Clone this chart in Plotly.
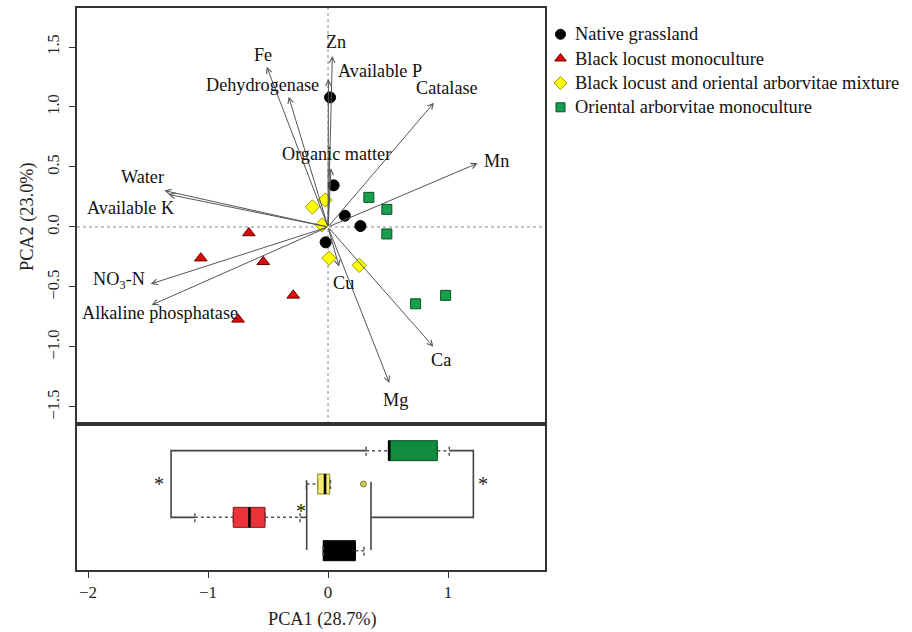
import plotly.graph_objects as go

# ---------------- data ----------------
groups = ["Native grassland", "Black locust monoculture",
          "Black locust and oriental arborvitae mixture",
          "Oriental arborvitae monoculture"]

ng_x = [0.017, 0.047, 0.14, 0.27, -0.02]
ng_y = [1.08, 0.347, 0.094, 0.008, -0.128]
bl_x = [-0.66, -1.06, -0.54, -0.29, -0.75]
bl_y = [-0.05, -0.26, -0.29, -0.57, -0.77]
mx_x = [-0.13, -0.025, -0.05, 0.008, 0.26]
mx_y = [0.167, 0.225, 0.017, -0.26, -0.32]
oa_x = [0.34, 0.49, 0.49, 0.73, 0.98]
oa_y = [0.247, 0.147, -0.058, -0.64, -0.57]

variables = ["Fe", "Zn", "Available P", "Dehydrogenase", "Catalase",
             "Organic matter", "Mn", "Water", "Available K",
             "NO<sub>3</sub>-N", "Alkaline phosphatase", "Cu", "Ca", "Mg"]
load_x = [-0.511, 0.036, 0.003, -0.328, 0.883, 0.025, 1.247, -1.364,
          -1.331, -1.478, -1.469, 0.092, 0.878, 0.511]
load_y = [1.336, 1.425, 1.233, 1.086, 1.036, 0.489, 0.531, 0.303,
          0.272, -0.475, -0.650, -0.331, -0.998, -1.300]
label_x = [-0.543, 0.069, 0.433, -0.543, 0.989, 0.073, 1.400, -1.550,
           -1.650, -1.744, -1.402, 0.125, 0.940, 0.563]
label_y = [1.433, 1.539, 1.300, 1.183, 1.156, 0.608, 0.553, 0.419,
           0.158, -0.450, -0.719, -0.469, -1.108, -1.442]

# PCA1 box statistics (order: Native, Black locust, Mixture, Oriental)
box_pos = [1, 2, 3, 4]
box_low = [-0.04, -1.11, -0.18, 0.317]
box_q1 = [-0.04, -0.79, -0.086, 0.503]
box_med = [-0.03, -0.655, -0.025, 0.51]
box_q3 = [0.228, -0.525, 0.014, 0.911]
box_high = [0.30, -0.233, 0.02, 1.01]
outlier_x = [0.295]
outlier_pos = [3]

# significance brackets
left_bracket_x = -1.308
right_bracket_x = 1.211
mid_left_x = -0.178
mid_right_x = 0.358
mid_span = [1.02, 3.07]
stars_x = [-1.405, 1.291, -0.228]
stars_y = [3.0, 3.0, 2.2]

# ---------------- styles ----------------
FONT = "Liberation Serif, Times New Roman, serif"
fill_cols = ["#000000", "#ee3338", "#f5ef6e", "#118c3f"]
edge_cols = ["#000000", "#7a1d1d", "#8a8430", "#0b4f24"]
W, H = 912, 632

fig = go.Figure()

# scatter points (top panel)
pts = [
    (ng_x, ng_y, "circle", "#000000", "#000000", 11),
    (bl_x, bl_y, "triangle-up", "#dd0a0a", "#6a0000", 11),
    (mx_x, mx_y, "diamond", "#ffff00", "#9a9a10", 11),
    (oa_x, oa_y, "square", "#16a04e", "#0b4f24", 10),
]
for name, (xs, ys, sym, col, lc, sz) in zip(groups, pts):
    fig.add_trace(go.Scatter(
        x=xs, y=ys, mode="markers", name=name, xaxis="x", yaxis="y",
        marker=dict(symbol=sym, color=col, size=sz, line=dict(color=lc, width=1)),
        showlegend=False, hoverinfo="skip"))

annotations = []
# loading arrows
for lx, ly in zip(load_x, load_y):
    annotations.append(dict(
        x=lx, y=ly, ax=0, ay=0, xref="x", yref="y", axref="x", ayref="y",
        showarrow=True, arrowhead=5, arrowsize=1.1, arrowwidth=1,
        arrowcolor="#555555", text="", standoff=0))
# variable labels
for t, tx, ty in zip(variables, label_x, label_y):
    annotations.append(dict(
        x=tx, y=ty, xref="x", yref="y", text=t, showarrow=False,
        xanchor="center", yanchor="middle",
        font=dict(family=FONT, size=18.2, color="#111111")))

# legend (drawn in its own hidden pixel-scaled axes)
leg_y = [34.3, 58.5, 83.0, 107.3]
leg_marker_x = 560.5
leg_text_x = 573
leg_sym = [("circle", "#000000", "#000000", 10),
           ("triangle-up", "#dd0a0a", "#6a0000", 10),
           ("diamond", "#ffff00", "#9a9a10", 10),
           ("square", "#16a04e", "#0b4f24", 9)]
for name, ly, (sym, col, lc, sz) in zip(groups, leg_y, leg_sym):
    fig.add_trace(go.Scatter(
        x=[leg_marker_x], y=[ly], mode="markers", name=name,
        xaxis="x3", yaxis="y3", showlegend=False, hoverinfo="skip",
        marker=dict(symbol=sym, color=col, size=sz, line=dict(color=lc, width=1))))
    annotations.append(dict(
        x=leg_text_x, y=ly, xref="x3", yref="y3", text=name, showarrow=False,
        xanchor="left", yanchor="middle",
        font=dict(family=FONT, size=18.4, color="#111111")))

# box plots (bottom panel)
for i in range(4):
    fig.add_trace(go.Box(
        orientation="h", y=[box_pos[i]], q1=[box_q1[i]], median=[box_med[i]],
        q3=[box_q3[i]], lowerfence=[box_q1[i]], upperfence=[box_q3[i]],
        width=0.6, fillcolor=fill_cols[i], line=dict(color=edge_cols[i], width=1),
        boxpoints=False, showlegend=False, xaxis="x2", yaxis="y2",
        hoverinfo="skip"))
    # median
    fig.add_trace(go.Scatter(
        x=[box_med[i], box_med[i]], y=[box_pos[i] - 0.3, box_pos[i] + 0.3],
        mode="lines", line=dict(color="#000000", width=2.6),
        showlegend=False, xaxis="x2", yaxis="y2", hoverinfo="skip"))
    # whiskers
    for a, b in ((box_low[i], box_q1[i]), (box_q3[i], box_high[i])):
        fig.add_trace(go.Scatter(
            x=[a, b], y=[box_pos[i], box_pos[i]], mode="lines",
            line=dict(color="#555555", width=1.5, dash="dot"),
            showlegend=False, xaxis="x2", yaxis="y2", hoverinfo="skip"))
    for c in (box_low[i], box_high[i]):
        fig.add_trace(go.Scatter(
            x=[c, c], y=[box_pos[i] - 0.15, box_pos[i] + 0.15], mode="lines",
            line=dict(color="#555555", width=1.5, dash="dot"),
            showlegend=False, xaxis="x2", yaxis="y2", hoverinfo="skip"))

fig.add_trace(go.Scatter(
    x=outlier_x, y=outlier_pos, mode="markers",
    marker=dict(symbol="circle", size=6, color="#c9c66a", line=dict(color="#8a8430", width=1)),
    showlegend=False, xaxis="x2", yaxis="y2", hoverinfo="skip"))

# brackets
bracket_paths = [
    ([box_low[3], left_bracket_x, left_bracket_x, box_low[1]], [4, 4, 2, 2]),
    ([box_high[3], right_bracket_x, right_bracket_x, mid_right_x], [4, 4, 2, 2]),
    ([mid_left_x, mid_left_x], mid_span),
    ([mid_right_x, mid_right_x], mid_span),
    ([box_high[1], mid_left_x], [2, 2]),
]
for bx, by in bracket_paths:
    fig.add_trace(go.Scatter(
        x=bx, y=by, mode="lines", line=dict(color="#444444", width=1.6),
        showlegend=False, xaxis="x2", yaxis="y2", hoverinfo="skip"))

for sx, sy in zip(stars_x, stars_y):
    annotations.append(dict(x=sx, y=sy, xref="x2", yref="y2", text="*",
                            showarrow=False, xanchor="center", yanchor="middle",
                            font=dict(family=FONT, size=20, color="#222222")))

# axis titles
annotations.append(dict(x=322.5 / W, y=1 - 619 / H, xref="paper", yref="paper",
                        text="PCA1 (28.7%)", showarrow=False,
                        xanchor="center", yanchor="middle",
                        font=dict(family=FONT, size=18.3, color="#222222")))
annotations.append(dict(x=27.5 / W, y=1 - 216.5 / H, xref="paper", yref="paper",
                        text="PCA2 (23.0%)", showarrow=False, textangle=-90,
                        xanchor="center", yanchor="middle",
                        font=dict(family=FONT, size=18.3, color="#222222")))

shapes = [
    dict(type="line", xref="x", yref="y domain", x0=0, x1=0, y0=0, y1=1,
         line=dict(color="#888888", width=1, dash="dot"), layer="below"),
    dict(type="line", xref="x domain", yref="y", x0=0, x1=1, y0=0, y1=0,
         line=dict(color="#888888", width=1, dash="dot"), layer="below"),
]

xdom = [77 / W, 545 / W]
ytop = [1 - 424 / H, 1 - 8 / H]
ybot = [1 - 570 / H, 1 - 424 / H]
xr = [-2.092, 1.808]
axis_common = dict(showgrid=False, zeroline=False, showline=True, mirror=True,
                   linecolor="#333333", linewidth=1.5)

fig.update_layout(
    width=W, height=H,
    margin=dict(l=0, r=0, t=0, b=0),
    plot_bgcolor="white", paper_bgcolor="white",
    font=dict(family=FONT, size=17, color="#222222"),
    showlegend=False,
    xaxis=dict(domain=xdom, range=xr, anchor="y", showticklabels=False,
               ticks="", **axis_common),
    yaxis=dict(domain=ytop, range=[-1.642, 1.825], anchor="x",
               tickvals=[-1.5, -1.0, -0.5, 0.0, 0.5, 1.0, 1.5],
               ticktext=["\u22121.5", "\u22121.0", "\u22120.5", "0.0", "0.5", "1.0", "1.5"],
               tickangle=-90, ticks="outside", ticklen=6, tickcolor="#333333",
               tickwidth=1.2, ticklabelstandoff=4,
               tickfont=dict(family=FONT, size=16.5, color="#222222"),
               **axis_common),
    xaxis2=dict(domain=xdom, range=xr, anchor="y2", matches="x",
                tickvals=[-2, -1, 0, 1], ticktext=["\u22122", "\u22121", "0", "1"],
                ticks="outside", ticklen=6, tickcolor="#333333", tickwidth=1.2,
                tickfont=dict(family=FONT, size=17, color="#222222"),
                **axis_common),
    yaxis2=dict(domain=ybot, range=[0.421, 4.8], anchor="x2",
                showticklabels=False, ticks="", **axis_common),
    xaxis3=dict(domain=[548 / W, 1], range=[548, W], anchor="y3", visible=False,
                fixedrange=True),
    yaxis3=dict(domain=[1 - 130 / H, 1], range=[130, 0], anchor="x3", visible=False,
                fixedrange=True),
    annotations=annotations,
    shapes=shapes,
)

fig.write_html("out.html")
